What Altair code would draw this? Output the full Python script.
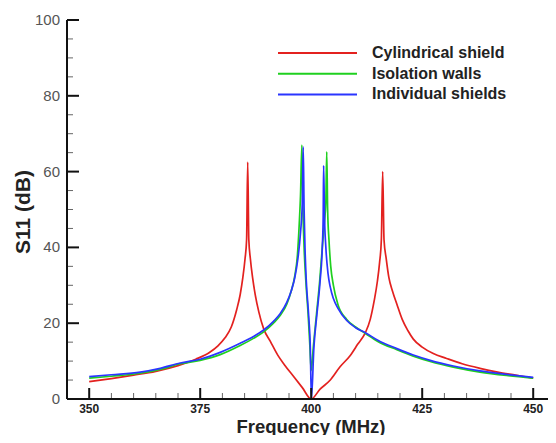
import altair as alt
import pandas as pd

# ---- data ----
series_names = ["Cylindrical shield", "Isolation walls", "Individual shields"]
series_colors = ["#e3211f", "#1fd01f", "#2a35ff"]

red_f = [350, 355, 360, 365, 370, 374, 377, 379, 380.5, 382, 383.2, 384, 384.6, 385.1, 385.45, 385.7,
         385.95, 386.3, 386.8, 387.4, 388.2, 389.3, 390.8, 392.5, 394, 396, 398, 400,
         402, 404.3, 406.5, 408.8, 410.5, 412.2, 413.3, 414.2, 414.9, 415.4, 415.8, 416.1,
         416.4, 416.9, 417.5, 418.3, 419.3, 420.5, 421.8, 423, 425, 427.5, 430.5, 434, 438, 442, 446, 450]
red_db = [4.6, 5.4, 6.3, 7.3, 8.8, 10.5, 12.2, 14.0, 16, 19, 23.5, 27.5, 32, 37, 42, 62.5,
          42, 37, 32, 27.5, 23, 18.5, 15.2, 11.5, 9, 6, 3, 0,
          2.6, 5, 8.5, 11.5, 14.5, 17.5, 21, 26, 31, 36, 42, 60,
          42, 37, 32, 28.5, 25, 21, 18, 15.8, 13.7, 12, 10.7, 9.3, 8.1, 7.1, 6.3, 5.5]

green_f = [350, 355, 361.5, 366, 370.5, 375, 379.5, 384, 387, 389.3, 391.5, 393, 394.5, 395.5, 396.3,
           396.9, 397.3, 397.6, 397.9, 398.1, 398.4, 398.8, 399.3, 399.7, 400, 400.5, 401.2, 401.9,
           402.5, 403.0, 403.3, 403.5, 403.7, 404.0, 404.4, 405, 406, 408, 410, 412.2, 415, 419.3,
           423, 426.8, 432, 438, 444, 450]
green_db = [5.5, 6.0, 6.8, 7.8, 9.3, 10.2, 11.7, 14.1, 16, 17.7, 20, 22, 25, 28.5, 32.5,
            38, 46, 54, 67, 52, 40, 31, 22.5, 14, 7.5, 14, 22.5, 31,
            40, 47, 52, 65.2, 50, 42, 35, 30, 25, 21, 19, 17.3, 15.2, 13,
            11.3, 9.9, 8.4, 7.1, 6.2, 5.5]

blue_f = [350, 355, 361.5, 366, 370.5, 375, 379.5, 384, 387, 389.3, 391.5, 393, 394.5, 395.5, 396.3,
          397, 397.6, 398.0, 398.2, 398.4, 398.6, 398.9, 399.4, 399.8, 400.05, 400.6, 401.3, 402.0,
          402.5, 402.7, 402.8, 403.0, 403.3, 403.8, 404.3, 405, 406, 408, 410, 412.2, 415, 419.3,
          423, 426.8, 432, 438, 444, 450]
blue_db = [5.9, 6.4, 7.1, 8.1, 9.5, 10.5, 12.3, 14.7, 16.5, 18.2, 20.5, 22.5, 25.5, 28.5, 32,
           37, 44, 52, 66.5, 50, 40, 31, 22.5, 13.5, 0, 13.5, 22.5, 31,
           40, 48, 61.6, 48, 40, 33, 29.5, 26.5, 24, 20.7, 18.8, 17.5, 15.5, 13.3,
           11.6, 10.2, 8.7, 7.4, 6.5, 5.7]

x_major = [350, 375, 400, 425, 450]
x_minor = [v for v in range(355, 450, 5) if v % 25 != 0]
y_major = [0, 20, 40, 60, 80, 100]
y_minor = [v for v in range(5, 100, 5) if v % 20 != 0]
x_title = "Frequency (MHz)"
y_title = "S11 (dB)"

rows = []
for name, fs, ds in zip(series_names, [red_f, green_f, blue_f], [red_db, green_db, blue_db]):
    for i, (f, d) in enumerate(zip(fs, ds)):
        rows.append({"series": name, "freq": f, "db": d, "idx": i})
df = pd.DataFrame(rows)

W, H = 481, 379
FONT = "Liberation Sans"
X0, X1 = 345, 345 + W / 4.44
Y0, Y1 = 0, 100
PX_X = (X1 - X0) / W   # data units per pixel (x)
PX_Y = (Y1 - Y0) / H   # data units per pixel (y)

xscale = alt.Scale(domain=[X0, X1], nice=False, zero=False)
yscale = alt.Scale(domain=[Y0, Y1], nice=False)
cscale = alt.Scale(domain=series_names, range=series_colors)

lines = alt.Chart(df).mark_line(strokeWidth=1.7, interpolate="monotone").encode(
    x=alt.X("freq:Q", scale=xscale, axis=None),
    y=alt.Y("db:Q", scale=yscale, axis=None),
    color=alt.Color("series:N", sort=series_names, scale=cscale, legend=None),
    order="idx:Q",
)


def vrules(vals, length_px, color, width):
    d = pd.DataFrame({"v": vals})
    return alt.Chart(d).transform_calculate(a=f"{Y0}", b=f"{Y0 + length_px * PX_Y}").mark_rule(
        color=color, strokeWidth=width, strokeCap="butt").encode(
        x=alt.X("v:Q", scale=xscale, axis=None),
        y=alt.Y("a:Q", scale=yscale, axis=None), y2="b:Q")


def hrules(vals, length_px, color, width):
    d = pd.DataFrame({"v": vals})
    return alt.Chart(d).transform_calculate(a=f"{X0}", b=f"{X0 + length_px * PX_X}").mark_rule(
        color=color, strokeWidth=width, strokeCap="butt").encode(
        y=alt.Y("v:Q", scale=yscale, axis=None),
        x=alt.X("a:Q", scale=xscale, axis=None), x2="b:Q")


xmin = vrules(x_minor, 6, "#666", 1)
xmaj = vrules(x_major, 11, "#111", 2)
ymin = hrules(y_minor, 6, "#666", 1)
ymaj = hrules(y_major, 12, "#111", 2)

# axis lines
dom_x = alt.Chart(pd.DataFrame({"a": [X0], "b": [X1], "y": [Y0]})).mark_rule(
    color="#111", strokeWidth=2).encode(
    x=alt.X("a:Q", scale=xscale, axis=None), x2="b:Q", y=alt.Y("y:Q", scale=yscale, axis=None))
dom_y = alt.Chart(pd.DataFrame({"a": [Y0], "b": [Y1], "x": [X0]})).mark_rule(
    color="#111", strokeWidth=2).encode(
    y=alt.Y("a:Q", scale=yscale, axis=None), y2="b:Q", x=alt.X("x:Q", scale=xscale, axis=None))

# tick labels
xlab = alt.Chart(pd.DataFrame({"v": x_major})).mark_text(
    font=FONT, fontSize=12, fontWeight="bold", color="#222", baseline="middle", align="center").encode(
    x=alt.X("v:Q", scale=xscale, axis=None), y=alt.value(H + 10), text="v:Q")
ylab = alt.Chart(pd.DataFrame({"v": y_major})).mark_text(
    font=FONT, fontSize=15, color="#555", baseline="middle", align="right").encode(
    y=alt.Y("v:Q", scale=yscale, axis=None), x=alt.value(-7), text="v:Q")

# axis titles
xt = alt.Chart(pd.DataFrame({"t": [x_title]})).mark_text(
    font=FONT, fontSize=18.5, fontWeight="bold", color="#222", baseline="alphabetic", align="center").encode(
    text="t:N", x=alt.value(244), y=alt.value(H + 34))
yt = alt.Chart(pd.DataFrame({"t": [y_title]})).mark_text(
    font=FONT, fontSize=21, fontWeight="bold", color="#222", baseline="middle", align="center",
    angle=270).encode(
    text="t:N", x=alt.value(-43), y=alt.value(192))

# legend (built from the series names, placed in pixels)
leg_df = pd.DataFrame({"series": series_names, "row": list(range(len(series_names)))})
LEG_TOP, LEG_STEP = 33, 20.7
leg_base = alt.Chart(leg_df).transform_calculate(py=f"{LEG_TOP} + datum.row * {LEG_STEP}")
leg_lines = leg_base.mark_rule(strokeWidth=2).encode(
    x=alt.value(211), x2=alt.value(290),
    y=alt.Y("py:Q", scale=None, axis=None),
    color=alt.Color("series:N", sort=series_names, scale=cscale, legend=None))
leg_text = leg_base.mark_text(font=FONT, fontSize=16, fontWeight="bold", color="#222",
                              align="left", baseline="middle").encode(
    x=alt.value(305), y=alt.Y("py:Q", scale=None, axis=None), text="series:N")

chart = alt.layer(lines, xmin, xmaj, ymin, ymaj, dom_x, dom_y, xlab, ylab, xt, yt,
                  leg_lines, leg_text).properties(
    width=W, height=H,
    background="white",
    autosize=alt.AutoSizeParams(type="none"),
    padding={"left": 59, "top": 12, "right": 0, "bottom": 36},
).configure_view(stroke=None, strokeWidth=0)

chart.save("out.html", embed_options={"renderer": "svg", "actions": False})
